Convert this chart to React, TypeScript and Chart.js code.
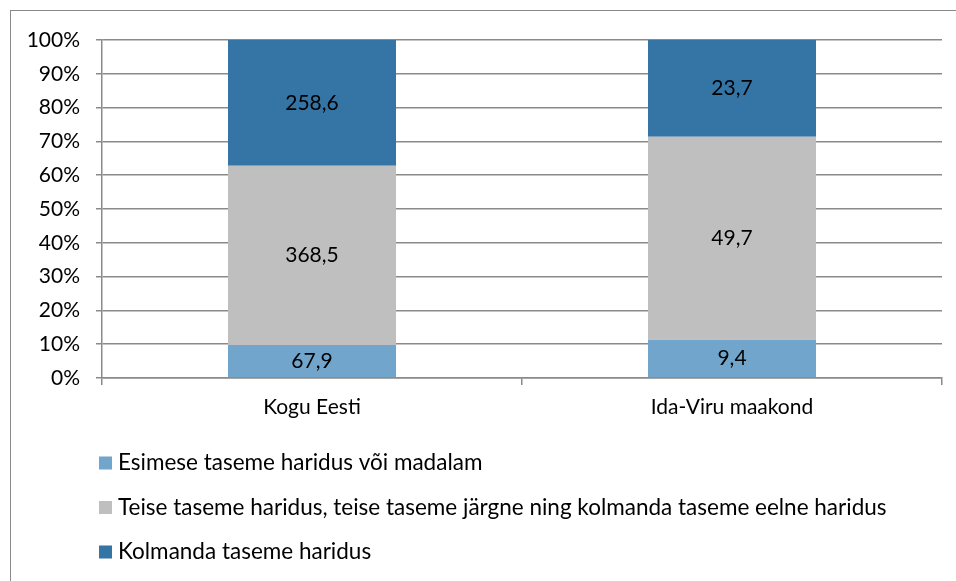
import React, { useEffect, useRef } from "react";
import { Chart, registerables } from "chart.js";

Chart.register(...registerables);

const categories = ["Kogu Eesti", "Ida-Viru maakond"];
const seriesLabels = [
  "Esimese taseme haridus või madalam",
  "Teise taseme haridus, teise taseme järgne ning kolmanda taseme eelne haridus",
  "Kolmanda taseme haridus",
];
const firstLevel = [67.9, 9.4];
const secondLevel = [368.5, 49.7];
const thirdLevel = [258.6, 23.7];
const seriesColors = ["#71A5CC", "#BFBFBF", "#3475A5"];
const yTicks = [0, 10, 20, 30, 40, 50, 60, 70, 80, 90, 100];

const FONT = "Lato, 'Noto Sans', sans-serif";
const FS = 21;
const LEGEND_FS = 22.5;

export default function App() {
  const ref = useRef<HTMLCanvasElement | null>(null);

  useEffect(() => {
    if (!ref.current) return;
    const raw = [firstLevel, secondLevel, thirdLevel];
    const totals = categories.map((_, i) => raw.reduce((s, arr) => s + arr[i], 0));
    const pct = raw.map((arr) => arr.map((v, i) => (v / totals[i]) * 100));

    const labelPlugin = {
      id: "barLabels",
      afterDatasetsDraw(chart: any) {
        const ctx = chart.ctx;
        ctx.save();
        ctx.font = `${FS}px ${FONT}`;
        ctx.fillStyle = "#000";
        ctx.textAlign = "center";
        ctx.textBaseline = "middle";
        chart.data.datasets.forEach((ds: any, di: number) => {
          const meta = chart.getDatasetMeta(di);
          meta.data.forEach((el: any, i: number) => {
            const v = ds.rawValues[i];
            const y = (el.y + el.base) / 2;
            ctx.fillText(v.toFixed(1).replace(".", ","), el.x, y);
          });
        });
        ctx.restore();
      },
    };

    const legendPlugin = {
      id: "customLegend",
      afterDraw(chart: any) {
        const ctx = chart.ctx;
        const area = chart.chartArea;
        ctx.save();
        ctx.font = `${LEGEND_FS}px ${FONT}`;
        ctx.textAlign = "left";
        ctx.textBaseline = "middle";
        chart.data.datasets.forEach((ds: any, i: number) => {
          const cy = area.bottom + 85 + i * 44.5;
          const x0 = area.left - 3;
          ctx.fillStyle = ds.backgroundColor;
          ctx.fillRect(x0, cy - 6.5, 13, 13);
          ctx.fillStyle = "#000";
          ctx.fillText(ds.label, x0 + 19, cy);
        });
        ctx.restore();
      },
    };

    const chart = new Chart(ref.current, {
      type: "bar",
      data: {
        labels: categories,
        datasets: seriesLabels.map((label, k) => ({
          label,
          data: pct[k],
          rawValues: raw[k],
          backgroundColor: seriesColors[k],
          borderWidth: 0,
          barPercentage: 0.4,
          categoryPercentage: 1,
        })) as any,
      },
      options: {
        responsive: false,
        animation: false,
        devicePixelRatio: 1,
        layout: { padding: { left: 0, right: 14, top: 40, bottom: 153 } },
        plugins: {
          legend: { display: false },
          tooltip: { enabled: false },
        },
        scales: {
          x: {
            stacked: true,
            offset: true,
            grid: {
              offset: true,
              drawOnChartArea: false,
              drawTicks: true,
              tickLength: 7,
              color: "#8A8A8A",
              lineWidth: 1.5,
            },
            border: { display: true, color: "#8A8A8A", width: 1.5 },
            ticks: {
              color: "#000",
              font: { family: FONT, size: FS },
              padding: 10,
            },
            afterFit(scale: any) {
              scale.height = 50;
            },
          },
          y: {
            stacked: true,
            min: 0,
            max: 100,
            afterBuildTicks(scale: any) {
              scale.ticks = yTicks.map((v) => ({ value: v }));
            },
            grid: {
              color: "#8A8A8A",
              lineWidth: 1.5,
              tickLength: 6,
            },
            border: { display: true, color: "#8A8A8A", width: 1.5 },
            ticks: {
              color: "#000",
              font: { family: FONT, size: FS },
              padding: 16,
              callback: (v: any) => `${v}%`,
            },
            afterFit(scale: any) {
              scale.width = 102;
            },
          },
        },
      },
      plugins: [labelPlugin, legendPlugin],
    });
    return () => chart.destroy();
  }, []);

  return (
    <div style={{ position: "fixed", left: 0, top: 0, width: 956, height: 581, background: "#fff", overflow: "hidden" }}>
      <div
        style={{
          position: "absolute",
          left: 10,
          top: 10,
          width: 960,
          height: 600,
          borderLeft: "1px solid #8A8A8A",
          borderTop: "1px solid #8A8A8A",
        }}
      />
      <canvas ref={ref} width={956} height={581} style={{ position: "absolute", left: 0, top: 0 }} />
    </div>
  );
}
